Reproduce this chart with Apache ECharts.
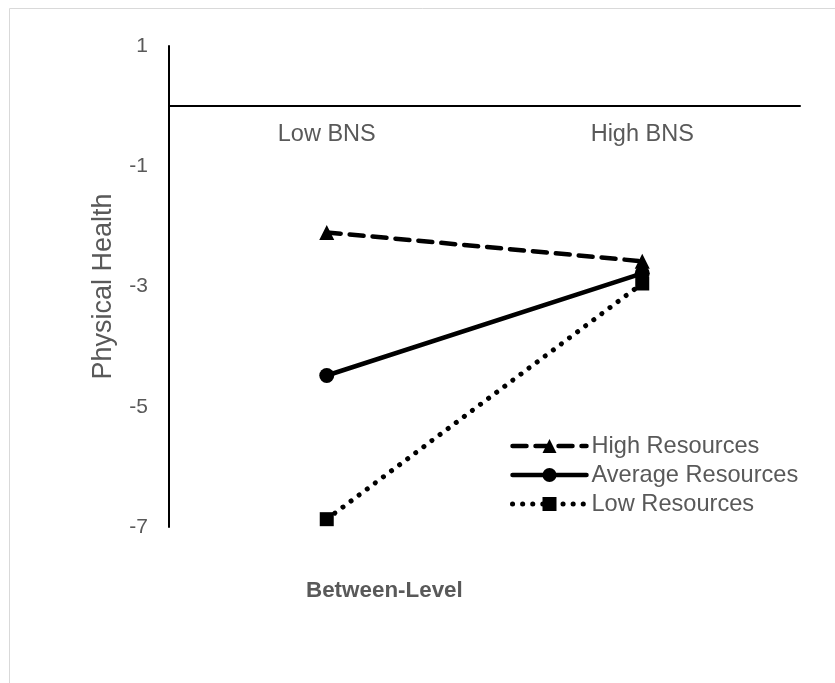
<!DOCTYPE html>
<html>
<head>
<meta charset="utf-8">
<script src="https://cdn.jsdelivr.net/npm/echarts@6/dist/echarts.min.js"></script>
<style>
html,body{margin:0;padding:0;background:#fff;}
#chart{width:835px;height:683px;}
</style>
</head>
<body>
<div id="chart"></div>
<script>
var categories = ['Low BNS', 'High BNS'];
var seriesNames = ['High Resources', 'Average Resources', 'Low Resources'];
var highResources = [-2.1, -2.58];
var averageResources = [-4.48, -2.78];
var lowResources = [-6.87, -2.95];
var yTickLabels = [1, -1, -3, -5, -7];
var yAxisTitle = 'Physical Health';
var xAxisTitle = 'Between-Level';

var FONT = '"Liberation Sans", Arial, sans-serif';
var GREY = '#595959';

var chart = echarts.init(document.getElementById('chart'), null, {renderer: 'canvas'});
chart.setOption({
  animation: false,
  backgroundColor: '#ffffff',
  textStyle: {fontFamily: FONT},
  graphic: [
    {type: 'rect', shape: {x: 9.5, y: 8.5, width: 900, height: 800}, style: {fill: 'none', stroke: '#d9d9d9', lineWidth: 1}, z: -1},
    {type: 'text', left: 306, top: 580, style: {text: xAxisTitle, font: 'bold 22.4px ' + FONT, fill: GREY}}
  ],
  grid: {left: 169, right: 35, top: 46, bottom: 156, containLabel: false},
  legend: {
    orient: 'vertical',
    left: 505, top: 429,
    itemWidth: 74, itemHeight: 17.5, itemGap: 5,
    lineStyle: {width: 'inherit', type: 'inherit', cap: 'inherit'},
    textStyle: {fontSize: 23.6, color: GREY, fontFamily: FONT, lineHeight: 24},
    data: seriesNames
  },
  xAxis: {
    type: 'category',
    data: categories,
    boundaryGap: true,
    axisLine: {onZero: true, lineStyle: {color: '#000', width: 2}},
    axisTick: {show: false},
    axisLabel: {color: GREY, fontSize: 23.5, margin: -404, fontFamily: FONT}
  },
  yAxis: {
    type: 'value',
    min: -7, max: 1, interval: 1,
    name: yAxisTitle,
    nameLocation: 'middle',
    nameGap: 52,
    nameRotate: 90,
    nameTextStyle: {color: GREY, fontSize: 27, fontFamily: FONT},
    axisLine: {show: true, onZero: false, lineStyle: {color: '#000', width: 2}},
    axisTick: {show: false},
    splitLine: {show: false},
    axisLabel: {
      color: GREY, fontSize: 21, margin: 21, fontFamily: FONT,
      formatter: function (v) { return yTickLabels.indexOf(v) >= 0 ? String(v) : ''; }
    }
  },
  series: [
    {
      name: seriesNames[0], type: 'line', data: highResources,
      symbol: 'triangle', symbolSize: 15,
      itemStyle: {color: '#000'},
      lineStyle: {color: '#000', width: 4.5, type: [14, 9], cap: 'round'}
    },
    {
      name: seriesNames[1], type: 'line', data: averageResources,
      symbol: 'circle', symbolSize: 15,
      itemStyle: {color: '#000'},
      lineStyle: {color: '#000', width: 4.5, type: 'solid', cap: 'round'}
    },
    {
      name: seriesNames[2], type: 'line', data: lowResources,
      symbol: 'rect', symbolSize: 14,
      itemStyle: {color: '#000'},
      lineStyle: {color: '#000', width: 5, type: [0.1, 10], cap: 'round'}
    }
  ]
});
</script>
</body>
</html>
